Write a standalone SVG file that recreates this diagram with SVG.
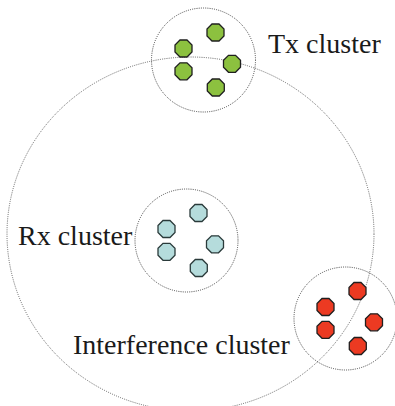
<svg xmlns="http://www.w3.org/2000/svg" xmlns:xlink="http://www.w3.org/1999/xlink" width="395" height="406" viewBox="0 0 395 406">
<style>
.ring{fill:none;stroke:#444;stroke-width:1;stroke-dasharray:1 1.2}
.big{fill:none;stroke:#555;stroke-width:0.9;stroke-dasharray:1 1.2}
.lbl{font-family:"Liberation Serif","Times New Roman",serif;font-size:28px;fill:#1a1a1a}
.g{fill:#8cc13f;stroke:#1f1f1f;stroke-width:1.3}
.b{fill:#b5dcdc;stroke:#2a3a3a;stroke-width:1.3}
.r{fill:#ec3a22;stroke:#1f1f1f;stroke-width:1.3}
</style>
<defs>
<polygon id="oct" points="-3.5,-8.5 3.5,-8.5 8.5,-3.5 8.5,3.5 3.5,8.5 -3.5,8.5 -8.5,3.5 -8.5,-3.5"/>
<g id="five">
<use xlink:href="#oct" x="12" y="-27.5"/>
<use xlink:href="#oct" x="-20" y="-11.5"/>
<use xlink:href="#oct" x="-20" y="11.3"/>
<use xlink:href="#oct" x="28.5" y="3.8"/>
<use xlink:href="#oct" x="12.3" y="27.5"/>
</g>
</defs>
<rect width="395" height="406" fill="#fff"/>
<g id="connectors">
<ellipse class="big" cx="190.5" cy="234" rx="183.5" ry="177"/>
</g>
<g id="tx">
<circle class="ring" cx="203.5" cy="60" r="52"/>
<use xlink:href="#five" class="g" x="203.5" y="60"/>
<text class="lbl" x="268" y="53">Tx cluster</text>
</g>
<g id="rx">
<circle class="ring" cx="186.5" cy="240.5" r="51.5"/>
<use xlink:href="#five" class="b" x="186.5" y="240.5"/>
<text class="lbl" x="18" y="245">Rx cluster</text>
</g>
<g id="interference">
<circle class="ring" cx="345.5" cy="318.5" r="51.5"/>
<use xlink:href="#five" class="r" x="345.5" y="318.5"/>
<text class="lbl" x="73" y="354">Interference cluster</text>
</g>
</svg>
